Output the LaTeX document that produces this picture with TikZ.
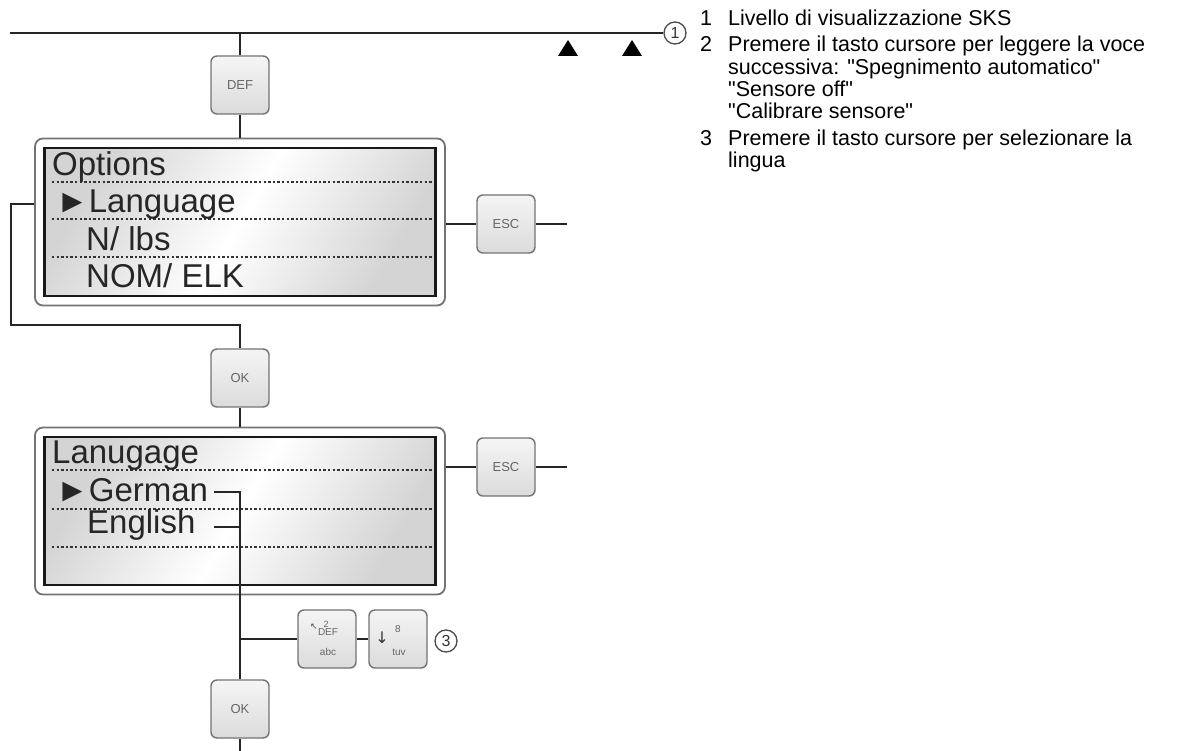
\documentclass[tikz,border=0pt]{standalone}
\usepackage{fontspec}
\setmainfont{Liberation Sans}[Ligatures=TeXOff]
\newfontfamily\dejavu{DejaVu Sans}
\usetikzlibrary{calc}
\begin{document}
\begin{tikzpicture}[x=1pt,y=-1pt,
  conn/.style={line width=1.5pt, draw=black!85},
  keybox/.style={draw=black!55, line width=1.4pt, rounded corners=6pt, minimum width=58pt, minimum height=58pt, top color=black!4, bottom color=black!14, font=\fontsize{13}{13}\selectfont, text=black!60, inner sep=0pt},
  keytxt/.style={font=\fontsize{10}{10}\selectfont, text=black!60, inner sep=0pt},
  dispouter/.style={draw=black!55, line width=1.8pt, rounded corners=8pt, minimum width=410pt, minimum height=167pt, fill=white},
  dispinner/.style={draw=black!90, line width=2.4pt, minimum width=391pt, minimum height=148pt, left color=black!17, right color=black!17, middle color=white, shading angle=60},
  disptxt/.style={font=\fontsize{33}{36}\selectfont, text=black!85, inner sep=0pt, anchor=base west},
  dotline/.style={line width=1.4pt, draw=black!80, dash pattern=on 2.3pt off 2.3pt},
  callout/.style={circle, draw=black!70, line width=1.3pt, minimum size=22pt, inner sep=0pt, font=\fontsize{16}{16}\selectfont, text=black!80},
  legtxt/.style={font=\fontsize{21.5}{23}\selectfont, anchor=base west, inner sep=0pt}
]
\useasboundingbox (0,0) rectangle (1195,751);

% top level line
\coordinate (tl) at (10,33);
\node[callout] (c1) at (675,33) {1};
\draw[conn] (tl) -- (c1.west);
\fill[black] (558,56) -- (578,56) -- (568,40) -- cycle;
\fill[black] (622,56) -- (642,56) -- (632,40) -- cycle;

% DEF key
\node[keybox] (def) at (240,85) {DEF};
\draw[conn] (def.north |- tl) -- (def.north);

% display 1
\node[dispouter] (d1) at (240,222) {};
\node[dispinner] (d1i) at (240,222) {};
\draw[conn] (def.south) -- (d1.north);
\draw[dotline] (52,182) -- (432,182);
\draw[dotline] (52,219) -- (432,219);
\draw[dotline] (52,257) -- (432,257);
\node[disptxt] (t11) at (52,176) {Options};
\node[disptxt] (t12) at (56,213) {►Language};
\node[disptxt] (t13) at (86,251) {N/ lbs};
\node[disptxt] (t14) at (86,288) {NOM/ ELK};

% ESC 1
\node[keybox] (esc1) at (506,224) {ESC};
\coordinate (e1end) at (567,224);
\draw[conn] (d1.east |- esc1) -- (esc1.west);
\draw[conn] (esc1.east) -- (e1end);

% loop to OK 1
\node[keybox] (ok1) at (240,378) {OK};
\coordinate (lp) at (11,325);
\draw[conn] (d1.west |- 0,204) -- (lp |- 0,204) -- (lp) -- (lp -| ok1) -- (ok1.north);

% display 2
\node[dispouter] (d2) at (240,511) {};
\node[dispinner] (d2i) at (240,511) {};
\draw[conn] (ok1.south) -- (d2.north);
\draw[dotline] (52,470) -- (432,470);
\draw[dotline] (52,509) -- (432,509);
\draw[dotline] (52,547) -- (432,547);
\node[disptxt] (t21) at (52,463) {Lanugage};
\node[disptxt] (t22) at (56,501) {►German};
\node[disptxt] (t23) at (87,533) {English};

% ESC 2
\node[keybox] (esc2) at (506,467) {ESC};
\coordinate (e2end) at (567,467);
\draw[conn] (d2.east |- esc2) -- (esc2.west);
\draw[conn] (esc2.east) -- (e2end);

% keys and OK 2
\node[keybox] (ok2) at (240,709) {OK};
\node[keybox] (k2) at (327,639) {};
\node[keybox] (k8) at (398,639) {};
\node[callout] (c3) at (446,641) {3};
\node[keytxt, font=\fontsize{9}{9}\selectfont] at ($(k2.center)+(-1,-15)$) {2};
\node[keytxt] at ($(k2.center)+(1,-7)$) {DEF};
\node[keytxt] at ($(k2.center)+(1,13)$) {abc};
\node[keytxt, font=\dejavu\fontsize{9}{9}\selectfont, text=black!70] at ($(k2.center)+(-13,-12)$) {↖};
\node[keytxt, font=\dejavu\fontsize{16}{16}\selectfont, text=black!80] at ($(k8.center)+(-16,-1)$) {↓};
\node[keytxt] at ($(k8.center)+(0,-10)$) {8};
\node[keytxt] at ($(k8.center)+(1,13)$) {tuv};

\coordinate (ger) at (214,492);
\coordinate (eng) at (214,527);
\coordinate (bot) at (240,751);
\draw[conn] (ger) -- (ger -| ok2) -- (ok2.north);
\draw[conn] (eng) -- (eng -| ok2);
\draw[conn] (k2.west -| ok2) -- (k2.west);
\draw[conn] (k2.east) -- (k8.west);
\draw[conn] (ok2.south) -- (bot);

% legend
\node[legtxt] (n1) at (700,26) {1};
\node[legtxt] (l1) at (728,26) {Livello di visualizzazione SKS};
\node[legtxt] (n2) at (700,52) {2};
\node[legtxt] (l2a) at (728,52) {Premere il tasto cursore per leggere la voce};
\node[legtxt] (l2b) at (728,75) {successiva: "Spegnimento automatico"};
\node[legtxt] (l2c) at (728,97) {"Sensore off"};
\node[legtxt] (l2d) at (728,119) {"Calibrare sensore"};
\node[legtxt] (n3) at (700,146) {3};
\node[legtxt] (l3a) at (728,146) {Premere il tasto cursore per selezionare la};
\node[legtxt] (l3b) at (728,168) {lingua};
\end{tikzpicture}
\end{document}
